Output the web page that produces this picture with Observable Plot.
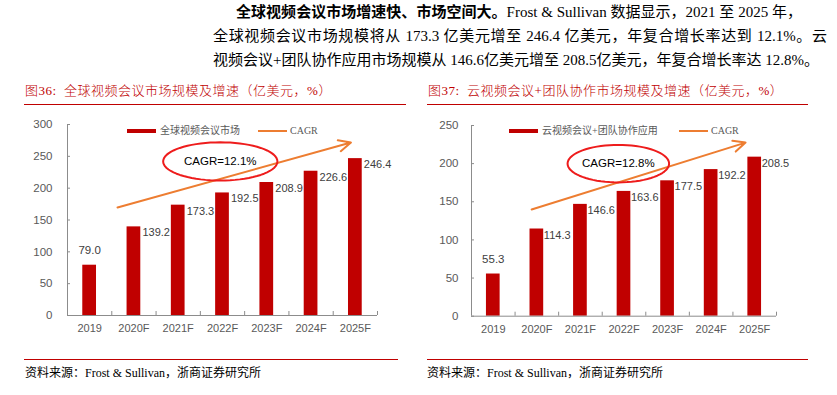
<!DOCTYPE html>
<html>
<head>
<meta charset="utf-8">
<script src="https://cdn.jsdelivr.net/npm/d3@7"></script>
<script src="https://cdn.jsdelivr.net/npm/@observablehq/plot@0.6"></script>
<style>
  html, body { margin: 0; padding: 0; background: #fff; }
  #page { position: relative; width: 837px; height: 395px; overflow: hidden; background: #fff; }
  .abs { position: absolute; white-space: nowrap; }
  .para { font-family: "Liberation Serif", "Noto Sans CJK SC", serif; font-size: 15px; line-height: 24px; height: 24px; color: #000; text-align: justify; text-align-last: justify; white-space: nowrap; }
  .ttl { font-family: "Liberation Serif", "Noto Sans CJK SC", serif; font-size: 13px; color: #c00000; letter-spacing: 0.5px; line-height: 16px; font-weight: 300; }
  .rule { position: absolute; height: 0; border-top: 1.5px solid #c00000; }
  .foot { font-family: "Liberation Serif", "Noto Sans CJK SC", serif; font-size: 12px; color: #000; line-height: 16px; }
  .leg { font-family: "Liberation Serif", "Noto Sans CJK SC", serif; font-size: 10px; color: #595959; line-height: 12px; }
  .swatch { position: absolute; height: 4px; background: #c00000; }
  .lline { position: absolute; height: 0; border-top: 2px solid #ed7d31; }
  svg { overflow: visible; }
</style>
</head>
<body>
<div id="page">
  <div class="abs para" style="left:236px; top:0px; width:566px;"><b>全球视频会议市场增速快、市场空间大。</b>Frost &amp; Sullivan 数据显示，2021 至 2025 年，</div>
  <div class="abs para" style="left:213px; top:24px; width:614px;">全球视频会议市场规模将从 173.3 亿美元增至 246.4 亿美元，年复合增长率达到 12.1%。云</div>
  <div class="abs para" style="left:213px; top:48px; width:598px;">视频会议+团队协作应用市场规模从 146.6亿美元增至 208.5亿美元，年复合增长率达 12.8%。</div>

  <div class="abs ttl" style="left:25px; top:83px;">图36:&nbsp;&nbsp;全球视频会议市场规模及增速（亿美元，%）</div>
  <div class="rule" style="left:24px; top:103.5px; width:382px;"></div>
  <div class="abs ttl" style="left:428px; top:83px;">图37:&nbsp;&nbsp;云视频会议+团队协作市场规模及增速（亿美元，%）</div>
  <div class="rule" style="left:427px; top:103.5px; width:381px;"></div>

  <div id="left" class="abs" style="left:0px; top:110px;"></div>
  <div id="right" class="abs" style="left:420px; top:110px;"></div>

  <div class="swatch" style="left:127px; top:129px; width:29px;"></div>
  <div class="abs leg" style="left:160px; top:125px;">全球视频会议市场</div>
  <div class="lline" style="left:258px; top:130px; width:29px;"></div>
  <div class="abs leg" style="left:290px; top:125px;">CAGR</div>

  <div class="swatch" style="left:509px; top:129px; width:29px;"></div>
  <div class="abs leg" style="left:542px; top:125px;">云视频会议+团队协作应用</div>
  <div class="lline" style="left:679px; top:130px; width:29px;"></div>
  <div class="abs leg" style="left:711px; top:125px;">CAGR</div>

  <div class="rule" style="left:24px; top:358.5px; width:374px;"></div>
  <div class="abs foot" style="left:25px; top:365px;">资料来源：Frost &amp; Sullivan，浙商证券研究所</div>
  <div class="rule" style="left:427px; top:358.5px; width:381px;"></div>
  <div class="abs foot" style="left:427px; top:365px;">资料来源：Frost &amp; Sullivan，浙商证券研究所</div>
</div>
<script>
// ---- data ----
const categories = ["2019", "2020F", "2021F", "2022F", "2023F", "2024F", "2025F"];
const globalMarket = [79.0, 139.2, 173.3, 192.5, 208.9, 226.6, 246.4];
const cloudCollab = [55.3, 114.3, 146.6, 163.6, 177.5, 192.2, 208.5];
const leftTicks = [0, 50, 100, 150, 200, 250, 300];
const rightTicks = [0, 50, 100, 150, 200, 250];
const leftCagrText = "CAGR=12.1%";
const rightCagrText = "CAGR=12.8%";
// annotation anchors in data space (category index, value)
const leftArrow = [{x1: 0.63, y1: 169.6, x2: 5.9, y2: 271.7}];
const rightArrow = [{x1: 0.88, y1: 139.8, x2: 5.79, y2: 227.6}];
const leftEllipse = {cx: 2.95, cy: 242, rx: 1.29, ry: 30};
const rightEllipse = {cx: 2.87, cy: 200, rx: 1.165, ry: 24.6};

const BAR = "#c00000", AXIS = "#8c8c8c", TICKTXT = "#595959", VALTXT = "#404040";
const SANS = "Liberation Sans, Arial, sans-serif";

function ellipsePts(e) {
  const n = 72, pts = [];
  for (let k = 0; k < n; k++) {
    const a = (k / n) * 2 * Math.PI;
    pts.push({x: e.cx + e.rx * Math.cos(a), y: e.cy + e.ry * Math.sin(a)});
  }
  return pts;
}

function build(values, cfg) {
  const rows = values.map((v, i) => ({i, v, cat: categories[i]}));
  const half = cfg.barHalf;
  const boundaries = categories.map((_, i) => i + 0.5);
  return Plot.plot({
    width: cfg.width, height: 235,
    marginLeft: cfg.ml, marginRight: cfg.mr, marginTop: cfg.mt, marginBottom: cfg.mb,
    style: {background: "transparent", fontFamily: SANS, overflow: "visible"},
    x: {type: "linear", domain: [-0.5, categories.length - 0.5], axis: null},
    y: {domain: [0, cfg.ymax], axis: null},
    marks: [
      Plot.rect(rows, {x1: d => d.i - half, x2: d => d.i + half, y1: 0, y2: "v", fill: BAR}),
      Plot.ruleY([0], {stroke: AXIS, strokeWidth: 1}),
      Plot.ruleX([-0.5], {stroke: AXIS, strokeWidth: 1}),
      Plot.axisY(cfg.ticks, {tickSize: -3, stroke: AXIS, tickPadding: cfg.yPad + 3, fontSize: 11.5, fill: TICKTXT, label: null, tickFormat: d => String(d)}),
      Plot.axisX(boundaries, {tickSize: -4, stroke: AXIS, tickFormat: () => "", label: null}),
      Plot.axisX(rows.map(d => d.i), {tickSize: 0, tickPadding: 9, fontSize: 11, fill: TICKTXT, tickFormat: i => categories[i], label: null}),
      Plot.text(rows.filter(d => d.i === 0), {x: "i", y: "v", text: d => d.v.toFixed(1), dy: -15, fontSize: 11.5, fill: VALTXT}),
      Plot.text(rows.filter(d => d.i > 0), {x: "i", y: "v", text: d => d.v.toFixed(1), dx: cfg.labelDx, dy: 6, textAnchor: "start", fontSize: 11, fill: VALTXT}),
      Plot.arrow(cfg.arrow, {x1: "x1", y1: "y1", x2: "x2", y2: "y2", stroke: "#ed7d31", strokeWidth: 2, headLength: 10, headAngle: 50}),
      Plot.line(ellipsePts(cfg.ellipse), {x: "x", y: "y", curve: "linear-closed", stroke: "#ee1c1c", strokeWidth: 2}),
      Plot.text([cfg.cagr], {x: cfg.ellipse.cx, y: cfg.ellipse.cy, text: d => d, fontSize: 11.5, fill: "#000"})
    ]
  });
}

document.getElementById("left").appendChild(build(globalMarket, {
  width: 410, ml: 67, mr: 33, mt: 14, mb: 30, ymax: 300, ticks: leftTicks, yPad: 15,
  barHalf: 0.155, labelDx: 8.5, arrow: leftArrow, ellipse: leftEllipse, cagr: leftCagrText
}));
document.getElementById("right").appendChild(build(cloudCollab, {
  width: 400, ml: 51, mr: 44, mt: 15, mb: 29.3, ymax: 250, ticks: rightTicks, yPad: 13,
  barHalf: 0.157, labelDx: 7, arrow: rightArrow, ellipse: rightEllipse, cagr: rightCagrText
}));
</script>
</body>
</html>
